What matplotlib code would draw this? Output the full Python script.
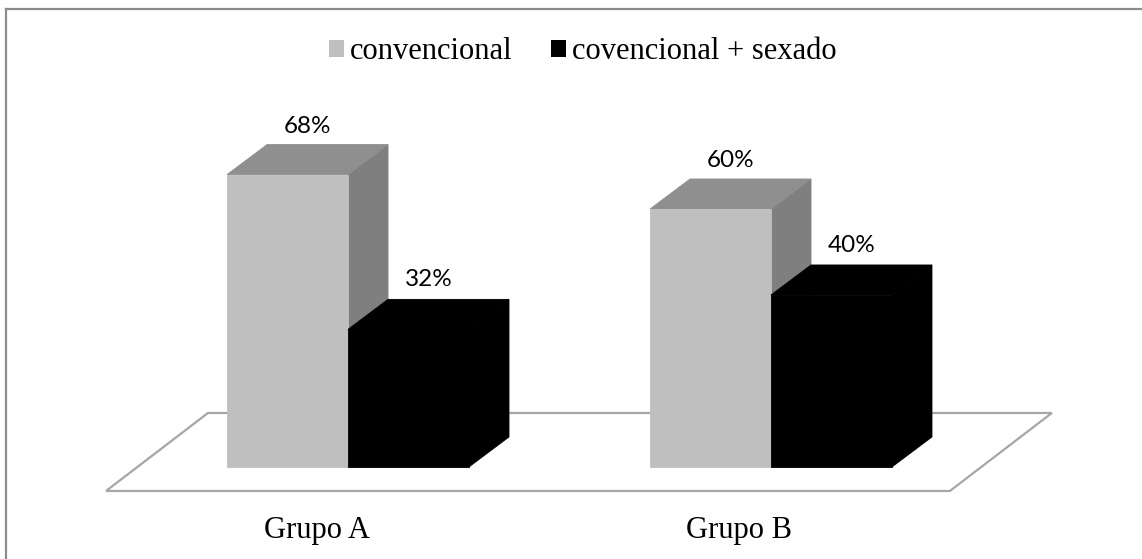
import matplotlib
matplotlib.use("Agg")
import matplotlib.pyplot as plt
from matplotlib.patches import Polygon, Patch
from matplotlib.lines import Line2D

# Data
groups = ["Grupo A", "Grupo B"]
series = ["convencional", "covencional + sexado"]
convencional = [68, 60]
sexado = [32, 40]
labels_conv = ["68%", "60%"]
labels_sex = ["32%", "40%"]

# Styling
FRONT = {"convencional": "#bfbfbf", "sexado": "#000000"}
TOP = {"convencional": "#8f8f8f", "sexado": "#000000"}
SIDE = {"convencional": "#7f7f7f", "sexado": "#000000"}
FLOOR_EDGE = "#a6a6a6"
FRAME = "#8c8c8c"

W = 0.286          # bar width (category spacing = 1)
DX, DY = 0.0946, 6.98   # oblique depth offset of each bar

fig = plt.figure(figsize=(11.42, 5.59), dpi=100)
ax = fig.add_axes([0, 0, 1, 1])
ax.set_xlim(-0.8227, 1.8771)
ax.set_ylim(-21.40, 108.6)
ax.axis("off")

# Chart frame (top and left edges visible)
fig.add_artist(Line2D([6 / 1142, 6 / 1142], [0, 1 - 9 / 559], color=FRAME, lw=1.6,
                      transform=fig.transFigure))
fig.add_artist(Line2D([6 / 1142, 1.0], [1 - 9 / 559, 1 - 9 / 559], color=FRAME, lw=1.6,
                      transform=fig.transFigure))

# Floor
fl_front_y, fl_back_y = -5.58, 12.56
fl_front_x0, fl_front_x1 = -0.572, 1.423
fl_shift = 0.241
floor = Polygon([(fl_front_x0, fl_front_y), (fl_front_x1, fl_front_y),
                 (fl_front_x1 + fl_shift, fl_back_y), (fl_front_x0 + fl_shift, fl_back_y)],
                closed=True, facecolor="white", edgecolor=FLOOR_EDGE, lw=1.6, zorder=1)
ax.add_patch(floor)


def bar3d(x0, h, key, z):
    x1 = x0 + W
    faces = [
        ([(x1, 0), (x1 + DX, DY), (x1 + DX, h + DY), (x1, h)], SIDE[key]),
        ([(x0, h), (x1, h), (x1 + DX, h + DY), (x0 + DX, h + DY)], TOP[key]),
        ([(x0, 0), (x1, 0), (x1, h), (x0, h)], FRONT[key]),
    ]
    for pts, col in faces:
        ax.add_patch(Polygon(pts, closed=True, facecolor=col, edgecolor=col,
                             lw=0.6, joinstyle="miter", zorder=z))


label_font = dict(family="Lato", fontsize=17.5, color="black", ha="center", va="center")
for i in range(len(groups)):
    bar3d(i - W, convencional[i], "convencional", 2)
    bar3d(i, sexado[i], "sexado", 3)
    ax.text(i - W + (W + DX) / 2, convencional[i] + DY + 4.3, labels_conv[i], **label_font)
    ax.text(i + (W + DX) / 2, sexado[i] + DY + 4.6, labels_sex[i], **label_font)

# Category labels centred on the floor's front edge
slot = (fl_front_x1 - fl_front_x0) / len(groups)
for i, g in enumerate(groups):
    ax.text(fl_front_x0 + (i + 0.5) * slot, -16.5, g, family="Liberation Serif",
            fontsize=22, ha="center", va="baseline")

# Legend
handles = [Patch(facecolor=FRONT["convencional"], edgecolor="none"),
           Patch(facecolor=FRONT["sexado"], edgecolor="none")]
fig.legend(handles, series, loc="center", bbox_to_anchor=(583 / 1142, 1 - 52 / 559),
           ncol=2, frameon=False, prop={"family": "Liberation Serif", "size": 22},
           handlelength=0.5, handleheight=0.5, handletextpad=0.2, columnspacing=1.25,
           borderpad=0, borderaxespad=0)

fig.savefig("out.png", dpi=100, facecolor="white")
